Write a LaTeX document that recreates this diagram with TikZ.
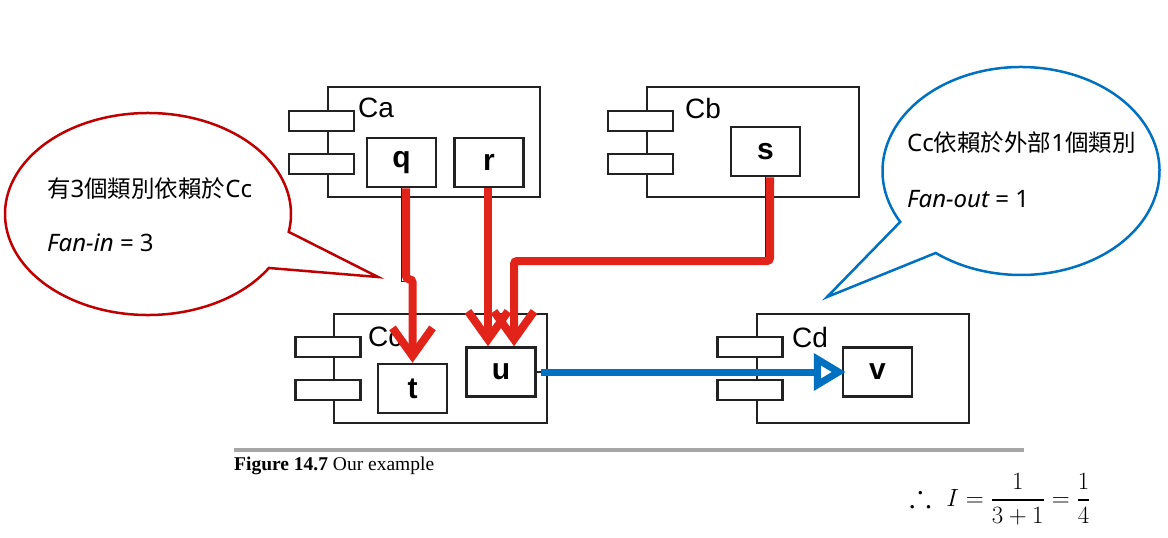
\documentclass[tikz,border=0pt]{standalone}
\usepackage{fontspec}
\usepackage{amssymb}
\setmainfont{Liberation Serif}
\newfontfamily\helv{Liberation Sans}
\newfontfamily\cjk{Noto Sans CJK TC}
\newfontfamily\nsans{Noto Sans}
\usetikzlibrary{arrows.meta}
\definecolor{redline}{HTML}{E2231A}
\definecolor{bubred}{HTML}{C00000}
\definecolor{bubblue}{HTML}{0070C0}
\definecolor{arrblue}{HTML}{0070C0}
\definecolor{boxline}{HTML}{222222}
\definecolor{rulegray}{HTML}{A6A6A6}
\newcommand\latn[1]{{\nsans\fontsize{24}{28}\selectfont #1}}
\begin{document}
\begin{tikzpicture}[x=1pt,y=-1pt,
 comp/.style={draw=boxline, line width=2.5pt, fill=white, inner sep=0pt, minimum width=212pt, minimum height=110pt},
 tab/.style={draw=boxline, line width=2.5pt, fill=white, inner sep=0pt, minimum width=65pt, minimum height=20pt},
 cls/.style={draw=boxline, line width=2.5pt, fill=white, inner sep=0pt, minimum width=69pt, minimum height=49pt, font=\helv\bfseries\fontsize{30}{30}\selectfont},
 clabel/.style={anchor=west, inner sep=0pt, font=\helv\fontsize{28}{28}\selectfont},
 thinline/.style={draw=boxline, line width=1.5pt},
 dep/.style={draw=redline, line width=8pt, rounded corners=3pt, -{Straight Barb[length=28pt,width=40pt]}},
 flow/.style={draw=arrblue, line width=7pt, -{Triangle[open,length=32pt,width=36pt]}},
 bubtext/.style={anchor=west, inner sep=0pt, font=\cjk\fontsize{23.5}{27}\selectfont},
 redbub/.style={draw=bubred, line width=2.5pt, fill=white},
 bluebub/.style={draw=bubblue, line width=2.5pt, fill=white}
]
\useasboundingbox (0,0) rectangle (1168,538);

% speech bubbles
\draw[redbub] ([shift={(148,214)}]32.3:143 and 101) arc[start angle=32.3, end angle=370.2, x radius=143, y radius=101] -- (378,277) -- cycle;
\draw[bluebub] ([shift={(1021,171)}]150.7:138.5 and 104) arc[start angle=150.7, end angle=488, x radius=138.5, y radius=104] -- (827,297) -- cycle;

\node[bubtext] (fi1) at (47,189) {有\latn{3}個類別依賴於\latn{Cc}};
\node[bubtext] (fi2) at (47,243) {\latn{\itshape Fan-in\upshape{} = 3}};
\node[bubtext] (fo1) at (907,143) {\latn{Cc}依賴於外部\latn{1}個類別};
\node[bubtext] (fo2) at (907,199) {\latn{\itshape Fan-out\upshape{} = 1}};

% components
\node[comp] (Ca) at (434,142) {};
\node[tab] (Ca1) at (321.5,121) {};
\node[tab] (Ca2) at (321.5,164) {};
\node[clabel] (CaL) at (358,108) {Ca};
\node[cls] (q) at (401.5,162.5) {q};
\node[cls] (r) at (489,162.5) {r};

\node[comp] (Cb) at (753,142) {};
\node[tab] (Cb1) at (640.5,121) {};
\node[tab] (Cb2) at (640.5,164) {};
\node[clabel] (CbL) at (685,108) {Cb};
\node[cls] (s) at (765.5,151.5) {s};

\node[comp, minimum width=213pt, minimum height=109pt] (Cc) at (440.5,368.5) {};
\node[tab] (Cc1) at (328,347) {};
\node[tab] (Cc2) at (328,390) {};
\node[clabel] (CcL) at (368,337) {Cc};
\node[cls] (t) at (412.5,388.5) {t};
\node[cls] (u) at (501,372) {u};

\node[comp, minimum height=109pt] (Cd) at (863,368.5) {};
\node[tab] (Cd1) at (750,347) {};
\node[tab] (Cd2) at (750,390) {};
\node[clabel] (CdL) at (792,337) {Cd};
\node[cls] (v) at (877.5,372) {v};

% original thin connectors
\coordinate (sj) at (514,261);
\draw[thinline] (q.south) -- ++(0,93) -- ++(8,0);
\draw[thinline] (s.south) |- (sj);
\draw[thinline] (u.east) -- ++(6,0);

% red dependencies
\draw[dep] ([xshift=4.5pt]q.south) -- ++(0,91) -| (t.north);
\draw[dep] ([xshift=-1pt]r.south) -- ([xshift=-1pt]r.south |- u.north);
\draw[dep] ([xshift=4.5pt]s.south) |- (sj) -- (sj |- u.north);

% blue dependency
\draw[flow] ([xshift=4pt]u.east) -- ([xshift=4pt]v.west);

% caption
\draw[line width=4pt, draw=rulegray] (234,450) -- (1024,450);
\node[anchor=base west, inner sep=0pt, font=\fontsize{19.5}{20}\selectfont] (cap) at (234,470) {\textbf{Figure 14.7} Our example};

% formula
\node[inner sep=0pt, font=\fontsize{32.5}{36}\selectfont] (formula) at (1000,499) {$\displaystyle \therefore\ I=\frac{1}{3+1}=\frac{1}{4}$};
\end{tikzpicture}
\end{document}
